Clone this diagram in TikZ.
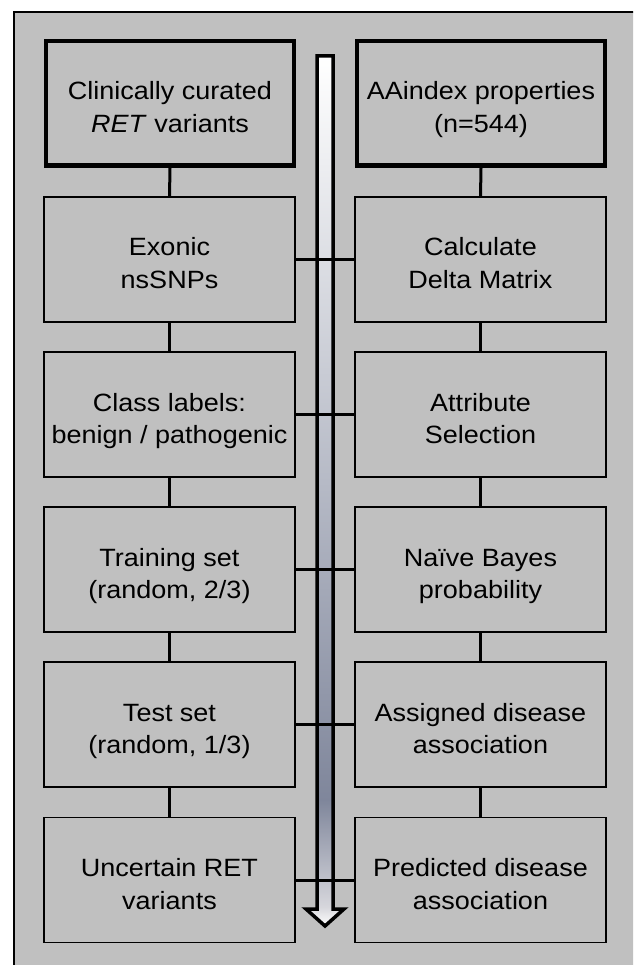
\documentclass[tikz,border=0pt]{standalone}
\usepackage{fontspec}
\setmainfont[FakeStretch=1.08]{Liberation Sans}
\definecolor{panel}{HTML}{C0C0C0}
\definecolor{slate}{HTML}{7F869B}
\definecolor{paleslate}{HTML}{D9D9DE}
\tikzset{
  stage/.style={draw=black, fill=panel, line width=1.5pt, minimum width=251pt,
    minimum height=125pt, align=center, inner sep=0pt, text=black,
    font=\fontsize{25}{32.5}\selectfont,
    % struts beside the text block set where the two lines sit in the box
    execute at begin node={\rule{0pt}{67pt}},
    execute at end node={\rule[-9pt]{0pt}{0pt}}},
  source/.style={stage, line width=4.5pt, minimum width=248pt, minimum height=124.5pt},
  link/.style={draw=black, line width=3pt},
}
\begin{document}
\begin{tikzpicture}[x=1pt, y=-1pt]
  \clip (0,0) rectangle (633,965);
  \fill[white] (0,0) rectangle (633,965);
  % surrounding panel
  \draw[fill=panel, line width=2pt] (14,12) rectangle (660,990);

  % flow arrow down the middle
  \fill[top color=white, bottom color=slate] (318,57) rectangle (332,801);
  \fill[top color=slate, bottom color=paleslate] (318,800) rectangle (332,910);
  \fill[top color=paleslate, bottom color=white] (306,908) -- (344,908) -- (325,926) -- cycle;
  \draw[line width=3.5pt, line join=miter]
    (317,56) -- (333,56) -- (333,909) -- (344,909) -- (325,926)
    -- (306,909) -- (317,909) -- cycle;

  % left column
  \node[source] (l1) at (170,103.5) {Clinically curated\\\textit{RET} variants};
  \node[stage] (l2) at (169.5,259.5) {Exonic\\nsSNPs};
  \node[stage] (l3) at (169.5,414.5) {Class labels:\\benign / pathogenic};
  \node[stage] (l4) at (169.5,569.5) {Training set\\(random, 2/3)};
  \node[stage] (l5) at (169.5,724.5) {Test set\\(random, 1/3)};
  \node[stage] (l6) at (169.5,880) {Uncertain RET\\variants};

  % right column
  \node[source] (r1) at (481,103.5) {AAindex properties\\(n=544)};
  \node[stage] (r2) at (480.5,259.5) {Calculate\\Delta Matrix};
  \node[stage] (r3) at (480.5,414.5) {Attribute\\Selection};
  \node[stage] (r4) at (480.5,569.5) {Naïve Bayes\\probability};
  \node[stage] (r5) at (480.5,724.5) {Assigned disease\\association};
  \node[stage] (r6) at (480.5,880) {Predicted disease\\association};

  % vertical links within each column
  \foreach \a/\b in {1/2,2/3,3/4,4/5,5/6} {
    \draw[link] (l\a.south) -- (l\b.north);
    \draw[link] (r\a.south) -- (r\b.north);
  }
  % horizontal links across the arrow
  \foreach \i in {2,...,6} {
    \draw[link] (l\i.east) -- (r\i.west);
  }
\end{tikzpicture}
\end{document}
